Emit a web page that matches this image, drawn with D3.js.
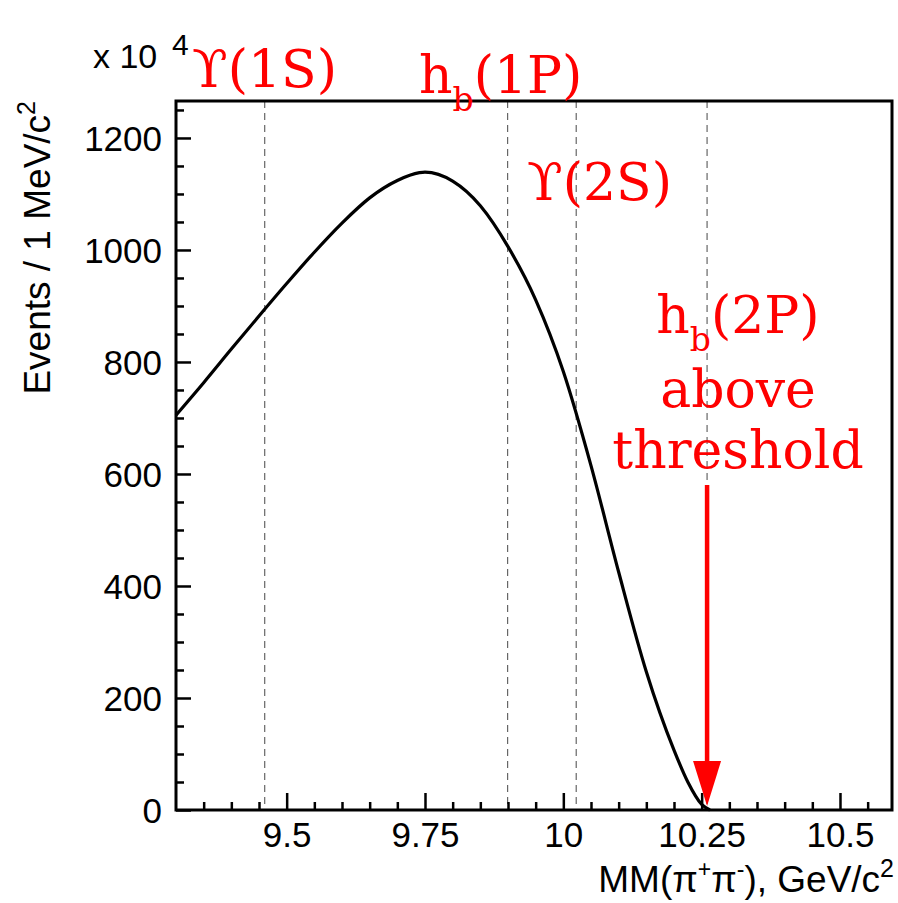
<!DOCTYPE html>
<html>
<head>
<meta charset="utf-8">
<script src="https://cdn.jsdelivr.net/npm/d3@7"></script>
<style>
  body { margin: 0; background: #fff; }
  svg { display: block; }
  .tick text { font-family: "Liberation Sans", Arial, sans-serif; font-size: 35px; fill: #000; }
  .ttl { font-family: "Liberation Sans", Arial, sans-serif; font-size: 37px; fill: #000; }
  .ann { font-family: "DejaVu Serif", serif; font-size: 52px; fill: #ff0000; }
</style>
</head>
<body>
<svg id="chart" width="898" height="903"></svg>
<script>
// curve (GeV, events / 1 MeV)
var massX = [9.30, 9.35, 9.40, 9.45, 9.50, 9.55, 9.60, 9.65, 9.70, 9.74, 9.75, 9.80, 9.85, 9.90,
             9.95, 10.00, 10.05, 10.10, 10.15, 10.20, 10.225, 10.25, 10.265];
var events = [705, 763, 823, 882, 940, 996, 1048, 1093, 1124, 1138, 1139, 1123, 1079, 1006,
              911, 783, 615, 425, 247, 107, 50, 10, 0];

// states marked by dashed lines
var stateMass = [9.4603, 9.8993, 10.0233, 10.2598];

var xTicks = [9.5, 9.75, 10, 10.25, 10.5];
var xTickLabels = ["9.5", "9.75", "10", "10.25", "10.5"];
var yTicks = [0, 200, 400, 600, 800, 1000, 1200];
var arrowMass = 10.2598;

(function() {
  var svg = d3.select("#chart");
  var left = 176, right = 892, top = 101, bottom = 810;

  var x = d3.scaleLinear().domain([9.3, 10.594]).range([left, right]);
  var y = d3.scaleLinear().domain([0, 1266]).range([bottom, top]);

  // dashed state lines
  svg.append("g").selectAll("line")
    .data(stateMass)
    .enter().append("line")
      .attr("x1", function(d) { return x(d); })
      .attr("x2", function(d) { return x(d); })
      .attr("y1", top)
      .attr("y2", bottom)
      .attr("stroke", "#666")
      .attr("stroke-width", 1.2)
      .attr("stroke-dasharray", "7,5");

  // minor ticks
  var xMinor = d3.range(9.35, 10.59, 0.05).filter(function(v) {
    return xTicks.every(function(t) { return Math.abs(t - v) > 1e-6; });
  });
  var yMinor = d3.range(50, 1266, 50).filter(function(v) { return v % 200 !== 0; });

  svg.append("g")
    .attr("transform", "translate(0," + bottom + ")")
    .call(d3.axisBottom(x).tickValues(xMinor).tickSize(-8).tickFormat(""))
    .call(function(g) { g.select(".domain").remove(); })
    .selectAll("line").attr("stroke-width", 2.5);

  svg.append("g")
    .attr("transform", "translate(" + left + ",0)")
    .call(d3.axisLeft(y).tickValues(yMinor).tickSize(-8).tickFormat(""))
    .call(function(g) { g.select(".domain").remove(); })
    .selectAll("line").attr("stroke-width", 2.5);

  var xAxis = svg.append("g")
    .attr("transform", "translate(0," + bottom + ")")
    .call(d3.axisBottom(x).tickValues(xTicks).tickSize(-17).tickPadding(0)
      .tickFormat(function(d, i) { return xTickLabels[i]; }));
  xAxis.select(".domain").remove();
  xAxis.selectAll("line").attr("stroke-width", 2.5);
  xAxis.selectAll("text").attr("y", 37).attr("dy", null);

  var yAxis = svg.append("g")
    .attr("transform", "translate(" + left + ",0)")
    .call(d3.axisLeft(y).tickValues(yTicks).tickSize(-15).tickPadding(0)
      .tickFormat(d3.format("d")));
  yAxis.select(".domain").remove();
  yAxis.selectAll("line").attr("stroke-width", 2.5);
  yAxis.selectAll("text").attr("x", -14).attr("dy", "0.36em");

  // frame
  svg.append("rect")
    .attr("x", left).attr("y", top)
    .attr("width", right - left).attr("height", bottom - top)
    .attr("fill", "none").attr("stroke", "#000").attr("stroke-width", 3);

  // curve
  var line = d3.line()
    .x(function(d, i) { return x(massX[i]); })
    .y(function(d) { return y(d); })
    .curve(d3.curveMonotoneX);

  svg.append("path")
    .datum(events)
    .attr("d", line)
    .attr("fill", "none")
    .attr("stroke", "#000")
    .attr("stroke-width", 3.2);

  // arrow to hb(2P)
  var ax = x(arrowMass);
  svg.append("line")
    .attr("x1", ax).attr("x2", ax)
    .attr("y1", 485).attr("y2", 765)
    .attr("stroke", "#ff0000").attr("stroke-width", 4.5);
  svg.append("path")
    .attr("d", "M" + (ax - 14) + ",761L" + (ax + 14) + ",761L" + ax + "," + (y(0) - 4) + "Z")
    .attr("fill", "#ff0000");

  // axis titles
  var xt = svg.append("text").attr("class", "ttl")
    .attr("x", 894).attr("y", 892).attr("text-anchor", "end");
  xt.append("tspan").text("MM(\u03c0");
  xt.append("tspan").attr("font-size", 23).attr("dy", -15).text("+");
  xt.append("tspan").attr("dy", 15).text("\u03c0");
  xt.append("tspan").attr("font-size", 23).attr("dy", -15).text("-");
  xt.append("tspan").attr("dy", 15).text("), GeV/c");
  xt.append("tspan").attr("font-size", 25).attr("dy", -15).text("2");

  var yt = svg.append("text").attr("class", "ttl")
    .attr("transform", "translate(50,101) rotate(-90)")
    .attr("text-anchor", "end");
  yt.append("tspan").text("Events / 1 MeV/c");
  yt.append("tspan").attr("font-size", 25).attr("dy", -15).text("2");

  var mult = svg.append("text").attr("class", "ttl").attr("x", 93).attr("y", 68);
  mult.append("tspan").attr("font-size", 34).text("x 10 ");
  mult.append("tspan").attr("font-size", 30).attr("x", 172).attr("y", 55).text("4");

  // annotations
  function label(xp, yp, anchor, main, sub, rest) {
    var t = svg.append("text").attr("class", "ann")
      .attr("x", xp).attr("y", yp).attr("text-anchor", anchor);
    t.append("tspan").text(main);
    if (sub) {
      t.append("tspan").attr("font-size", 33).attr("dy", 18).text(sub);
      t.append("tspan").attr("dy", -18).text(rest);
    }
  }
  label(192, 87, "start", "\u03d2(1S)");
  label(419, 93, "start", "h", "b", "(1P)");
  label(527, 200, "start", "\u03d2(2S)");
  label(738, 333, "middle", "h", "b", "(2P)");
  label(738, 407, "middle", "above");
  label(738, 468, "middle", "threshold");
})();
</script>
</body>
</html>
